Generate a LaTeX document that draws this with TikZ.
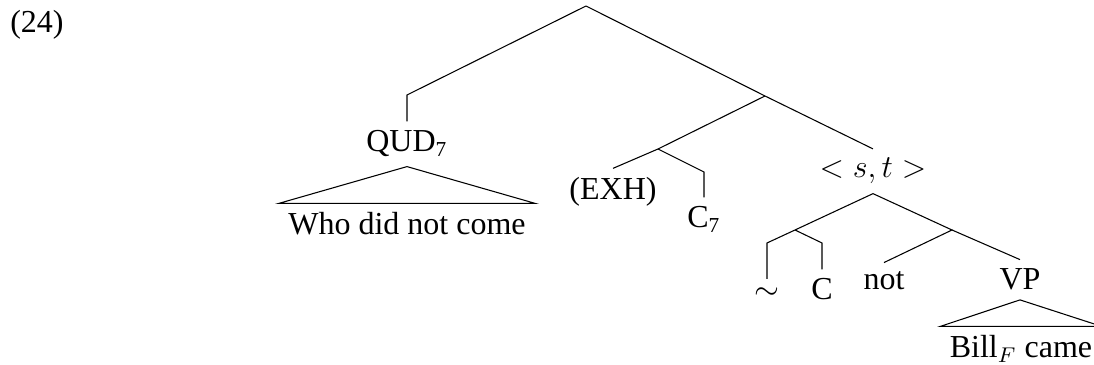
\documentclass[tikz,border=0pt]{standalone}
\usepackage{fontspec}
\setmainfont{Liberation Serif}

\begin{document}
\begin{tikzpicture}[
			x=0.375pt, y=-0.375pt,
			font=\fontsize{12}{14}\selectfont,
			label/.style={anchor=base},
			branch/.style={draw, line width=0.4pt}
			]
			\useasboundingbox (0,0) rectangle (1094,365);
			
			% Example number
			\node[label] (Num) at (37,33) {(24)};
			
			% Branching points
			\coordinate (Root) at (586,6);
			\coordinate (QUDbend) at (407,95);
			\coordinate (Mid) at (765,96);
			\coordinate (EXHj) at (658,149);
			\coordinate (C7bend) at (704,172);
			\coordinate (Simj) at (795,230);
			\coordinate (Tildebend) at (767,243);
			\coordinate (Cbend) at (822,243);
			\coordinate (Notj) at (952,230);
			
			% Labels
			\node[label] (QUD) at (407,152) {QUD\textsubscript{7}};
			\node[label] (Who) at (407,235) {Who did not come};
			\node[label] (EXH) at (613,200) {(EXH)};
			\node[label] (C7) at (704,228) {C\textsubscript{7}};
			\node[label] (ST) at (873,178) {$<s,t>$};
			\node[label] (Tilde) at (767,300) {$\sim$};
			\node[label] (C) at (822,300) {C};
			\node[label] (Not) at (884,290) {not};
			\node[label] (VP) at (1020,290) {VP};
			\node[label] (Bill) at (1021,358) {Bill$_F$ came};
			
			% Branches
			\draw[branch] (Root) -- (QUDbend) -- (QUD.north);
			\draw[branch] (Root) -- (Mid);
			\draw[branch] (Mid) -- (EXHj) -- (EXH.north);
			\draw[branch] (EXHj) -- (C7bend) -- (C7.north);
			\draw[branch] (Mid) -- (ST.north);
			\draw[branch] (ST.south) -- (Simj) -- (Tildebend) -- (Tilde.north);
			\draw[branch] (Simj) -- (Cbend) -- (C.north);
			\draw[branch] (ST.south) -- (Notj) -- (Not.north);
			\draw[branch] (Notj) -- (VP.north);
			
			% Roofs
			\draw[branch] (QUD.south) -- (Who.north west) -- (Who.north east) -- cycle;
			\draw[branch] (VP.south) -- (Bill.north west) -- (Bill.north east) -- cycle;
			
		\end{tikzpicture}
\end{document}
